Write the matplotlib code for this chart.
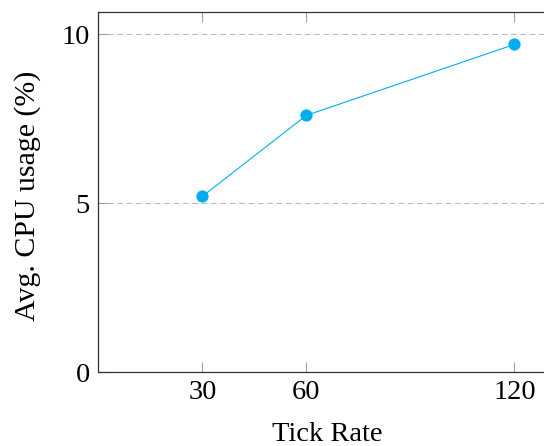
import matplotlib
matplotlib.use("Agg")
import matplotlib.pyplot as plt

# CPU usage measured at each tick rate
tick_rates = [30, 60, 120]
cpu_usage = [5.2, 7.6, 9.7]
x_ticks = [30, 60, 120]
y_ticks = [0, 5, 10]

plt.rcParams["font.family"] = ["Liberation Serif", "DejaVu Serif"]

fig = plt.figure(figsize=(5.44, 4.46), dpi=100)
W, H = 544, 446
left, right, top, bottom = 98.3, 556.0, 11.7, 372.0
ax = fig.add_axes([left / W, (H - bottom) / H, (right - left) / W, (bottom - top) / H])

line_color = "#00AEEF"
ax.plot(tick_rates, cpu_usage, color=line_color, linewidth=0.8,
        marker="o", markersize=8.8, markeredgewidth=0, zorder=3)

ax.set_xlim(0, 132)
ax.set_ylim(0, 10.67)
ax.set_xticks(x_ticks)
ax.set_yticks(y_ticks)

ax.yaxis.grid(True, linestyle=(0, (5.5, 3.5)), color="#b8b8b8", linewidth=0.75)
ax.set_axisbelow(True)

fs = 20.5
ax.tick_params(axis="both", which="major", direction="in", length=7,
               width=0.8, color="#a0a0a0", labelsize=fs, pad=6)
ax.tick_params(axis="x", top=True)

for s in ax.spines.values():
    s.set_linewidth(0.9)
    s.set_color("#333333")
ax.spines["right"].set_visible(False)

ax.set_xlabel("Tick Rate", fontsize=fs, labelpad=12)
ax.set_ylabel("Avg. CPU usage (%)", fontsize=21.5)
ax.yaxis.set_label_coords(-0.126, 0.49)

fig.savefig("out.png", dpi=100)
